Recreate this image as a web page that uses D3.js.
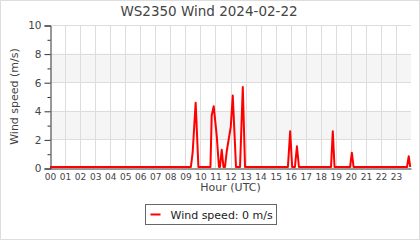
<!DOCTYPE html>
<html>
<head>
<meta charset="utf-8">
<script src="https://cdn.jsdelivr.net/npm/d3@7"></script>
<style>
  body { margin: 0; }
  svg { display: block; font-family: "DejaVu Sans", sans-serif; }
</style>
</head>
<body>
<svg id="chart" width="420" height="240"></svg>
<script>
// readings as "HH:MM" and wind speed in m/s (only the breakpoints, flat zero in between)
var times = ["00:00", "09:22", "09:29", "09:41", "09:52", "10:40", "10:45", "10:53", "11:05", "11:14",
             "11:18", "11:25", "11:32", "11:38", "11:45", "12:01", "12:09", "12:22", "12:38", "12:49",
             "12:58", "15:49", "15:58", "16:06", "16:17", "16:25", "16:33", "18:41", "18:48", "18:55",
             "19:57", "20:04", "20:11", "23:44", "23:51", "23:57"];
var speeds = [0, 0, 1.0, 4.5, 0, 0, 3.6, 4.25, 2.2, 0,
              0, 1.2, 0, 0, 1.1, 2.8, 5.0, 0, 0, 5.6,
              0, 0, 2.5, 0, 0, 1.45, 0, 0, 2.5, 0,
              0, 1.0, 0, 0, 0.75, 0];
var hourLabels = d3.range(24).map(function (h) { return (h < 10 ? "0" : "") + h; });
var yTicks = [0, 2, 4, 6, 8, 10];
var bands = [[2, 4], [6, 8]];
var currentSpeed = 0;

var data = times.map(function (t, i) {
    var p = t.split(":");
    return { h: +p[0] + p[1] / 60, v: speeds[i] };
});

var svg = d3.select("#chart");
var W = 420, H = 240;
var mLeft = 50, mRight = 411, mTop = 25, mBottom = 168;

svg.append("rect").attr("x", 0.5).attr("y", 0.5).attr("width", W - 1).attr("height", H - 1)
    .attr("fill", "#fff").attr("stroke", "#ddd");

var x = d3.scaleLinear().domain([0, 24]).range([mLeft, mRight]);
var y = d3.scaleLinear().domain([0, 10]).range([mBottom, mTop]);

// shaded bands
svg.selectAll(".band").data(bands).enter().append("rect")
    .attr("x", mLeft).attr("width", mRight - mLeft)
    .attr("y", function (d) { return y(d[1]); })
    .attr("height", function (d) { return y(d[0]) - y(d[1]); })
    .attr("fill", "#f5f5f5");

// grid
svg.append("g").selectAll("line").data(d3.range(1, 24)).enter().append("line")
    .attr("x1", function (d) { return Math.round(x(d)) + 0.5; })
    .attr("x2", function (d) { return Math.round(x(d)) + 0.5; })
    .attr("y1", mTop).attr("y2", mBottom)
    .attr("stroke", "#ddd");
svg.append("g").selectAll("line").data(yTicks.slice(1)).enter().append("line")
    .attr("x1", mLeft).attr("x2", mRight)
    .attr("y1", function (d) { return Math.round(y(d)) + 0.5; })
    .attr("y2", function (d) { return Math.round(y(d)) + 0.5; })
    .attr("stroke", "#ddd");

// y axis
var yAxis = d3.axisLeft(y).tickValues(yTicks).tickSize(6).tickPadding(3);
var gy = svg.append("g").attr("transform", "translate(" + (mLeft + 0.5) + ",0.5)").call(yAxis);
gy.selectAll(".tick line").attr("stroke", "#333");
gy.select(".domain").attr("stroke", "#333");
gy.selectAll("text").attr("fill", "#444").style("font-size", "10.5px").style("font-family", "DejaVu Sans");
var minor = d3.axisLeft(y).tickValues([1, 3, 5, 7, 9]).tickSize(3).tickFormat("");
var gm = svg.append("g").attr("transform", "translate(" + (mLeft + 0.5) + ",0.5)").call(minor);
gm.select(".domain").remove();
gm.selectAll(".tick line").attr("stroke", "#333");

// data line
var line = d3.line().x(function (d) { return x(d.h); }).y(function (d) { return y(d.v) - 1; });
svg.append("path").datum(data).attr("d", line)
    .attr("fill", "none").attr("stroke", "#ff0000").attr("stroke-width", 2)
    .attr("stroke-linejoin", "round");

// x axis
var xAxis = d3.axisBottom(x).tickValues(d3.range(24)).tickSize(0).tickPadding(5)
    .tickFormat(function (d) { return hourLabels[d]; });
var gx = svg.append("g").attr("transform", "translate(0," + (mBottom + 0.5) + ")").call(xAxis);
gx.select(".domain").attr("stroke", "#333");
gx.selectAll("text").attr("fill", "#444").style("font-size", "9px").style("font-family", "DejaVu Sans");

// titles
svg.append("text").attr("x", 209).attr("y", 16).attr("text-anchor", "middle")
    .attr("fill", "#444").style("font-size", "13.5px").text("WS2350 Wind 2024-02-22");
svg.append("text").attr("x", (mLeft + mRight) / 2).attr("y", 191).attr("text-anchor", "middle")
    .attr("fill", "#444").style("font-size", "11px").text("Hour (UTC)");
svg.append("text").attr("transform", "translate(18," + ((mTop + mBottom) / 2) + ") rotate(-90)")
    .attr("text-anchor", "middle").attr("fill", "#444").style("font-size", "11px")
    .text("Wind speed (m/s)");

// legend
var lg = svg.append("g").attr("transform", "translate(145.5,204.5)");
lg.append("rect").attr("width", 131).attr("height", 20).attr("fill", "#fff").attr("stroke", "#666");
lg.append("line").attr("x1", 5).attr("x2", 15).attr("y1", 10).attr("y2", 10)
    .attr("stroke", "#ff0000").attr("stroke-width", 2);
lg.append("text").attr("x", 25).attr("y", 14).attr("fill", "#222").style("font-size", "11px")
    .text("Wind speed: " + currentSpeed + " m/s");
</script>
</body>
</html>
